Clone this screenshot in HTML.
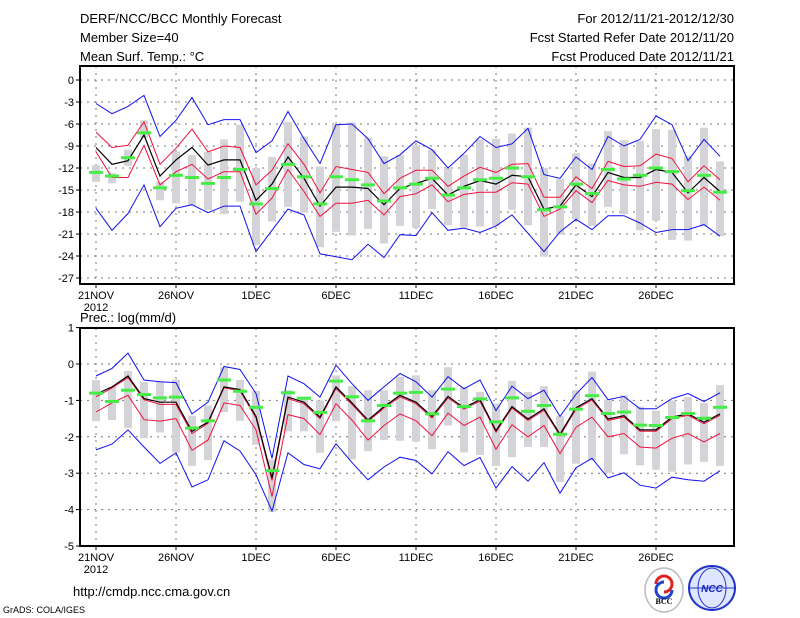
<!DOCTYPE html>
<html><head><meta charset="utf-8"><style>
body{margin:0;background:#fff;}
svg{display:block;font-family:"Liberation Sans",sans-serif;}
</style></head><body>
<svg id="c" width="800" height="618" viewBox="0 0 800 618">
<text x="80" y="23" font-size="13">DERF/NCC/BCC Monthly Forecast</text>
<text x="80" y="42" font-size="13">Member Size=40</text>
<text x="80" y="61" font-size="13">Mean Surf. Temp.: °C</text>
<text x="734" y="23" font-size="13" text-anchor="end">For 2012/11/21-2012/12/30</text>
<text x="734" y="42" font-size="13" text-anchor="end">Fcst Started Refer Date 2012/11/20</text>
<text x="734" y="61" font-size="13" text-anchor="end">Fcst Produced Date 2012/11/21</text>
<text x="80" y="322" font-size="13">Prec.: log(mm/d)</text>
<text x="73" y="596" font-size="13">http://cmdp.ncc.cma.gov.cn</text>
<text x="3" y="613" font-size="9">GrADS: COLA/IGES</text>
<g>
<ellipse cx="664" cy="590" rx="19" ry="22" fill="#fff" stroke="#bbb" stroke-width="1.5"/>
<path d="M656 584 a8 8 0 1 1 8 8" fill="none" stroke="#d22" stroke-width="3"/>
<path d="M672 590 a8 8 0 1 1 -8 -8" fill="none" stroke="#24c" stroke-width="3"/>
<text x="664" y="604" font-size="8" text-anchor="middle" font-family="Liberation Serif,serif" font-weight="bold">BCC</text>
</g>
<g>
<ellipse cx="712" cy="588" rx="23" ry="22" fill="#dfe6ff" stroke="#23c" stroke-width="2"/>
<ellipse cx="712" cy="588" rx="14" ry="20" fill="none" stroke="#23c" stroke-width="1"/>
<line x1="690" y1="588" x2="734" y2="588" stroke="#23c"/>
<text x="712" y="592" font-size="10" text-anchor="middle" fill="#12b" font-style="italic" font-weight="bold">NCC</text>
</g>
</svg>
<script>
// ---- temperature panel data ----
const days=['21NOV','26NOV','1DEC','6DEC','11DEC','16DEC','21DEC','26DEC'];
const tTicks=[0,-3,-6,-9,-12,-15,-18,-21,-24,-27];
const tBlueMax=[-3.2,-4.6,-3.6,-2.1,-7.7,-5.5,-2.4,-6.1,-5.4,-5.4,-9.9,-8.3,-4.3,-8.0,-11.4,-6.1,-6.0,-8.0,-11.4,-10.2,-8.3,-9.5,-12,-10,-7.7,-9.2,-8.7,-6.6,-12.9,-13.4,-10.5,-12.2,-7.7,-9,-8.1,-4.9,-6.1,-11,-8.1,-10.4];
const tRedUp=[-7.1,-9.2,-8.9,-5.7,-11.5,-9.3,-6.7,-9.8,-9,-9.2,-14.3,-12.3,-8.7,-11.5,-15.4,-11.8,-12.2,-12.6,-15.5,-13.4,-12.3,-12.3,-14.5,-13.1,-11.9,-12.6,-11.5,-11.4,-16,-16,-13.2,-14.8,-11.1,-11.8,-11.7,-10.1,-10.7,-13.9,-11.7,-13.6];
const tMean=[-9.2,-11.5,-11,-7.5,-13.1,-10.9,-9.2,-11.6,-10.9,-10.9,-16.4,-14.2,-10.5,-13.4,-17.2,-14.6,-14.6,-14.8,-17,-14.8,-14.1,-13.4,-15.7,-14.5,-13.7,-14.2,-13,-13.2,-17.6,-17.2,-14.3,-15.9,-12.6,-13.3,-13.3,-12.2,-12.6,-15.4,-13.3,-15.2];
const tRedLo=[-9.8,-13.3,-13.3,-8.9,-14.3,-12.5,-11.5,-13.5,-12.5,-12.5,-18.3,-16.1,-12.2,-15.2,-18.6,-16.8,-16.8,-16.4,-18.4,-15.9,-15.5,-14.3,-16.6,-15.6,-15.3,-15.3,-14,-14.2,-18.6,-17.6,-15.1,-16.7,-13.7,-14.3,-14.5,-13.95,-14.2,-16.3,-14.6,-16.4];
const tBlueMin=[-17.5,-20.5,-18.2,-14.3,-20,-17.5,-17,-18.1,-17.2,-17.2,-23.4,-20.5,-17.6,-18.4,-23.7,-24.1,-24.5,-22.4,-24.2,-21.1,-21.2,-18.1,-20.5,-20.2,-20.8,-19.9,-18.4,-20.9,-23.4,-20.7,-19,-20.4,-18.5,-18.5,-19.5,-20.8,-20.4,-20.4,-19.7,-21.3];
const tGreen=[-12.6,-13.1,-10.6,-7.2,-14.7,-13,-13.3,-14.1,-13.3,-12.2,-16.9,-14.8,-11.5,-13.2,-16.9,-13.2,-13.6,-14.3,-16.5,-14.7,-14.2,-13.4,-15.7,-14.7,-13.6,-13.4,-12,-13.2,-17.7,-17.3,-14.2,-15.5,-12.2,-13.5,-13,-12,-12.5,-15.1,-13,-15.3];
const tBarTop=[-11.6,-12.7,-9.5,-5.5,-13.9,-9.8,-10.2,-9.8,-8.1,-6.1,-12.0,-10.5,-5.7,-7.7,-11.8,-6,-5.8,-7.9,-10.4,-10.2,-8.9,-9.5,-12,-10.2,-8.1,-8,-7.3,-6.5,-12,-13.5,-10,-11.4,-6.95,-8.2,-8.3,-6.7,-6.8,-10.4,-6.5,-11.1];
const tBarBot=[-13.9,-14.1,-11.7,-7.9,-16.4,-16.8,-17.0,-17.7,-18.3,-16.6,-22.5,-19.3,-17.3,-18.1,-22.8,-20.7,-21.2,-20.3,-22.3,-19.9,-20.2,-17.6,-19.8,-20.1,-20,-19.9,-17.7,-19.8,-24.1,-21.1,-19,-19.9,-17.3,-18.3,-20.5,-19.2,-21.8,-21.9,-20,-21.3];
// ---- precipitation panel data ----
const pTicks=[1,0,-1,-2,-3,-4,-5];
const pBlueMax=[-0.33,-0.12,0.3,-0.44,-0.49,-0.51,-1.37,-1.05,-0.07,-0.15,-0.81,-2.59,-0.33,-0.54,-0.91,-0.03,-0.54,-1,-0.63,-0.26,-0.49,-0.91,-0.35,-0.68,-0.44,-1.28,-0.61,-0.95,-0.72,-1.44,-0.83,-0.37,-0.98,-0.89,-1.23,-1.23,-0.95,-0.81,-1.03,-0.79];
const pRedUp=[-0.9,-0.66,-0.37,-0.98,-1.11,-1.11,-1.91,-1.63,-0.65,-0.74,-1.48,-3.2,-0.95,-1.09,-1.5,-0.67,-1.11,-1.58,-1.21,-0.9,-1.09,-1.48,-0.93,-1.24,-1.02,-1.87,-1.21,-1.55,-1.27,-1.97,-1.24,-0.99,-1.55,-1.46,-1.85,-1.85,-1.5,-1.41,-1.64,-1.41];
const pMean=[-0.83,-0.63,-0.33,-0.95,-1.05,-1.05,-1.85,-1.6,-0.63,-0.7,-1.44,-3.13,-0.91,-1.05,-1.46,-0.63,-1.07,-1.54,-1.17,-0.86,-1.05,-1.44,-0.89,-1.2,-0.98,-1.83,-1.17,-1.51,-1.23,-1.93,-1.2,-0.95,-1.51,-1.42,-1.81,-1.81,-1.46,-1.37,-1.6,-1.37];
const pRedLo=[-1.32,-1.07,-0.86,-1.53,-1.57,-1.5,-2.37,-2.09,-1.07,-1.14,-1.81,-3.64,-1.39,-1.5,-1.94,-1.09,-1.54,-2.09,-1.69,-1.37,-1.56,-1.97,-1.35,-1.69,-1.46,-2.34,-1.67,-2,-1.69,-2.46,-1.74,-1.46,-2,-1.91,-2.28,-2.31,-2.04,-1.91,-2.14,-1.91];
const pBlueMin=[-2.36,-2.2,-1.81,-2.28,-2.73,-2.44,-3.38,-3.18,-2.11,-2.39,-3.04,-4.04,-2.44,-2.76,-2.88,-2.19,-2.71,-3.18,-2.83,-2.56,-2.65,-3.02,-2.41,-2.79,-2.57,-3.41,-2.82,-3.22,-2.71,-3.55,-2.85,-2.59,-3.13,-2.99,-3.33,-3.41,-3.11,-3.18,-3.22,-2.93];
const pGreen=[-0.8,-1.03,-0.72,-0.84,-0.93,-0.91,-1.76,-1.56,-0.44,-0.75,-1.19,-2.93,-0.79,-0.94,-1.33,-0.47,-0.9,-1.56,-1.14,-0.8,-0.78,-1.37,-0.69,-1.17,-0.96,-1.59,-0.93,-1.3,-1.14,-1.93,-1.24,-0.87,-1.36,-1.32,-1.68,-1.69,-1.47,-1.36,-1.49,-1.19];
const pBarTop=[-0.44,-0.63,-0.19,-0.49,-0.49,-0.43,-1.42,-1.14,-0.09,-0.44,-0.74,-2.62,-0.72,-0.95,-1,-0.31,-0.61,-0.72,-0.72,-0.35,-0.31,-0.72,-0.09,-0.63,-0.77,-1.09,-0.46,-0.77,-0.61,-1.42,-0.72,-0.21,-0.98,-0.86,-1.17,-1.28,-1.0,-0.91,-1.07,-0.58];
const pBarBot=[-1.57,-1.54,-1.76,-2.04,-1.88,-2.43,-2.8,-2.64,-1.32,-1.56,-2.22,-4.06,-1.85,-1.85,-2.44,-1.57,-2.62,-2.4,-2.09,-2.11,-2.13,-2.34,-1.69,-2.43,-2.5,-2.8,-2.56,-2.28,-2.28,-3.24,-2.74,-2.65,-2.99,-2.48,-2.78,-2.9,-2.96,-2.76,-2.69,-2.8];

const svg=document.getElementById('c');
const NS='http://www.w3.org/2000/svg';
function mk(tag,attrs,parent){const e=document.createElementNS(NS,tag);for(const k in attrs)e.setAttribute(k,attrs[k]);(parent||svg).appendChild(e);return e;}
const xOf=i=>96+16*i;

function panel(cfg){
  const g=mk('g',{});
  
  
  const X0=80,X1=734;
  // grid
  cfg.ticks.forEach(t=>{
    const y=cfg.y(t);
    if(y>cfg.top+2&&y<cfg.bot-2){
      const l=mk('line',{x1:X0,x2:X1,y1:y,y2:y,stroke:'#777','stroke-dasharray':'2,5'},g);
      
      
    }
    mk('line',{x1:X0-4,x2:X0,y1:y,y2:y,stroke:'#000'},g);
    const tx=mk('text',{x:X0-6,y:y+4,'font-size':11,'text-anchor':'end'},g);
    tx.textContent=t;
    
    
  });
  days.forEach((d,k)=>{
    const x=xOf(k*5);
    const l=mk('line',{x1:x,x2:x,y1:cfg.top,y2:cfg.bot,stroke:'#777','stroke-dasharray':'2,5'},g);
    
    
    mk('line',{x1:x,x2:x,y1:cfg.bot,y2:cfg.bot+4,stroke:'#000'},g);
    const tx=mk('text',{x:x,y:cfg.bot+15,'font-size':11,'text-anchor':'middle'},g);
    tx.textContent=d;
    
    
  });
  const yr=mk('text',{x:96,y:cfg.bot+27,'font-size':11,'text-anchor':'middle'},g);
  yr.textContent='2012';
  
  
  // bars
  cfg.barTop.forEach((v,i)=>{
    const y1=cfg.y(v),y2=cfg.y(cfg.barBot[i]);
    const r=mk('rect',{x:xOf(i)-4,y:y1,width:8,height:Math.max(1,y2-y1),fill:'#d4d4d8'},g);
    
    
  });
  const line=(arr,col,w,nm)=>{
    const p=mk('polyline',{points:arr.map((v,i)=>xOf(i)+','+cfg.y(v).toFixed(1)).join(' '),fill:'none',stroke:col,'stroke-width':w},g);
    
    
  };
  line(cfg.blueMax,'#1010f0',1,'max-line');
  line(cfg.blueMin,'#1010f0',1,'min-line');
  line(cfg.redUp,'#f0103c',1,'upper-line');
  line(cfg.redLo,'#f0103c',1,'lower-line');
  line(cfg.mean,'#000',1.2,'mean-line');
  cfg.green.forEach((v,i)=>{
    const r=mk('rect',{x:xOf(i)-7,y:cfg.y(v)-1.5,width:14,height:3,fill:'#44ee44'},g);
    
    
  });
  const f=mk('rect',{x:X0,y:cfg.top,width:X1-X0,height:cfg.bot-cfg.top,fill:'none',stroke:'#000','stroke-width':2},g);
  
  
}
panel({name:'temperature-panel',top:66,bot:284,ticks:tTicks,y:v=>80-v*7.333,
  blueMax:tBlueMax,blueMin:tBlueMin,redUp:tRedUp,redLo:tRedLo,mean:tMean,green:tGreen,barTop:tBarTop,barBot:tBarBot});
panel({name:'precipitation-panel',top:328,bot:546,ticks:pTicks,y:v=>364-v*36.4,
  blueMax:pBlueMax,blueMin:pBlueMin,redUp:pRedUp,redLo:pRedLo,mean:pMean,green:pGreen,barTop:pBarTop,barBot:pBarBot});
</script>
</body></html>
